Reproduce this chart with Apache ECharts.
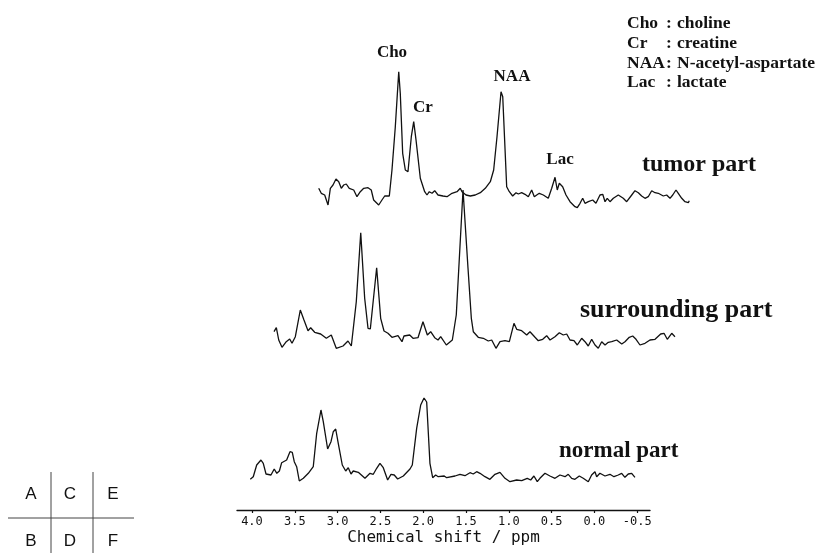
<!DOCTYPE html>
<html><head><meta charset="utf-8">
<script src="https://cdn.jsdelivr.net/npm/echarts@6/dist/echarts.min.js"></script>
<style>html,body{margin:0;padding:0;background:#fff}#c{width:827px;height:553px}</style>
</head><body><div id="c"></div>
<script>
// x-axis tick labels (ppm)
const ppmTicks = [4.0, 3.5, 3.0, 2.5, 2.0, 1.5, 1.0, 0.5, 0.0, -0.5];

// normal part spectrum
const normalPpm = [4.02,3.985,3.945,3.895,3.868,3.836,3.778,3.74,3.71,3.68,3.653,3.595,3.556,3.529,3.506,3.478,3.447,3.40,3.342,3.284,3.244,3.194,3.167,3.116,3.077,3.05,3.022,2.992,2.945,2.905,2.875,2.843,2.817,2.758,2.68,2.621,2.583,2.543,2.505,2.466,2.415,2.376,2.338,2.298,2.232,2.154,2.127,2.076,2.029,1.99,1.959,1.921,1.889,1.854,1.824,1.754,1.725,1.628,1.57,1.512,1.453,1.415,1.375,1.336,1.278,1.22,1.161,1.103,1.044,0.986,0.908,0.849,0.784,0.744,0.706,0.667,0.636,0.577,0.519,0.46,0.402,0.343,0.305,0.265,0.227,0.176,0.13,0.071,0.032,-0.007,-0.027,-0.065,-0.124,-0.182,-0.229,-0.279,-0.319,-0.357,-0.396,-0.436,-0.474];
const normalInt = [0.7,3.3,15,20,16.7,6,5,11,6.7,9,17.3,20,28.3,27.7,18.3,13.3,-1,1.7,6.7,13.3,46.7,70,58.3,31,38.3,48.3,51,36.7,15,9,12.3,6,9,7.7,1.7,6.7,5.7,11.7,16.7,12.3,0,5.7,5,1,4,11,15,51.7,75,82,78,16.7,2.3,5,3.3,4,2.3,4,5.7,4.3,7.3,6,8.3,6.7,3.3,0.7,5.7,7.7,1.7,-1.7,0,-0.7,1.7,0,4,-1.7,1.7,6.7,4,1.7,5,3.3,5.7,1.7,0.7,4,1.7,-1.7,5,8.3,3.3,6.7,4,5.7,3.3,5,6.7,2.7,6,6.7,2.7];

// surrounding part spectrum
const surroundPpm = [4.21,4.183,4.155,4.117,4.067,4.027,4.0,3.961,3.903,3.86,3.813,3.782,3.735,3.665,3.599,3.541,3.483,3.404,3.346,3.307,3.249,3.197,3.151,3.112,3.085,3.011,2.964,2.925,2.879,2.832,2.762,2.715,2.692,2.625,2.586,2.528,2.47,2.419,2.38,2.333,2.294,2.263,2.197,2.127,2.081,2.041,2.002,1.982,1.944,1.905,1.882,1.824,1.765,1.707,1.667,1.617,1.570,1.512,1.461,1.407,1.375,1.317,1.258,1.22,1.161,1.123,1.071,1.025,0.986,0.928,0.877,0.831,0.791,0.752,0.706,0.667,0.616,0.577,0.539,0.499,0.46,0.422,0.382,0.343,0.305,0.265,0.207,0.148,0.11,0.06,0.02,-0.019,-0.065,-0.124,-0.182,-0.241,-0.307,-0.346,-0.384,-0.436,-0.474];
const surroundInt = [8.3,12.3,0,-7.3,-1.7,1,-3.3,3.3,30,20,9.3,12.3,7.7,6,1.7,5,-8.3,-6,-1,-6,38.3,107.3,41.7,11.7,11,72.3,21.7,9,6.7,2.7,4.3,-1.7,4,5,1.7,2.3,18.3,5,8.3,2.3,0,3.3,-5,0,25,88.3,150,150,72,21.7,8.3,2.7,1.7,-1,0,-8.3,-1.7,-0.7,-1.7,16.7,10.7,9.3,5,8.3,2.7,-0.7,0.7,4.3,0,3.3,7.3,5,6,0,-0.7,-5,1.7,-1.7,-6,0.7,-5,-8.3,-1.7,-5,-2.3,-1.7,0,-4,-1.7,2.7,4,0.7,-5,-3.3,0,0.7,6,6.7,0.7,6.7,3.3];

// tumor part spectrum
const tumorPpm = [4.125,4.095,4.055,4.016,3.989,3.958,3.923,3.891,3.861,3.833,3.803,3.768,3.716,3.678,3.639,3.599,3.549,3.511,3.483,3.424,3.386,3.354,3.3,3.269,3.23,3.19,3.172,3.144,3.113,3.082,3.043,3.015,2.988,2.938,2.887,2.86,2.833,2.801,2.77,2.731,2.673,2.626,2.568,2.509,2.471,2.451,2.431,2.404,2.354,2.296,2.237,2.179,2.12,2.081,2.042,1.995,1.975,1.929,1.898,1.859,1.82,1.793,1.754,1.715,1.676,1.637,1.606,1.578,1.548,1.501,1.443,1.403,1.364,1.338,1.314,1.275,1.236,1.189,1.131,1.104,1.072,1.041,1.014,0.975,0.924,0.886,0.839,0.807,0.78,0.754,0.722,0.683,0.625,0.567,0.527,0.468,0.43,0.391,0.352,0.313,0.275,0.235,0.196,0.158,0.099,0.06,0.021,-0.011,-0.049,-0.076,-0.116,-0.154,-0.193,-0.204];
const tumorInt = [6.7,1.7,0,-10,6.7,10,16,13.3,6.7,10,11,6.7,5,-1.7,3.3,6.7,7.3,5,-5,-10,-5,-1,-1,25,68.3,123.3,101.7,41.7,25,23.3,58.3,73.3,55,16.7,3.3,0,3.3,1.7,4.3,0,-1,-1.7,1.7,3.3,6.7,3.3,5,0,-1,0,2.3,6.7,13.3,25,58.3,103.3,98.3,8.3,3.3,-1,2.3,1,2.3,0.7,-1.7,5,-1.7,0,1.7,0,-3.3,6.7,17.7,5,11.7,8.3,0,-6.7,-11.7,-12.7,-8.3,-3.3,-8.3,-6.7,-5,-8.3,0,0.7,-6.7,-3.3,-6.7,-3.3,0,-3.3,-6.7,0,4.3,2.3,-1,-3.3,-1.7,4.3,2.3,1.7,-1,0,-3.3,0,5,1.7,-3.3,-6.7,-7.7,-5.7];

// labels
const peakLabels = ['Cho', 'Cr', 'NAA', 'Lac'];
const partLabels = ['tumor part', 'surrounding part', 'normal part'];
const legendKeys = ['Cho', 'Cr', 'NAA', 'Lac'];
const legendNames = ['choline', 'creatine', 'N-acetyl-aspartate', 'lactate'];
const panelLetters = [['A', 'C', 'E'], ['B', 'D', 'F']];

const zip = (a, b) => a.map((v, i) => [v, b[i]]);
const chart = echarts.init(document.getElementById('c'), null, {renderer: 'canvas'});
const serif = "'Liberation Serif', 'Times New Roman', serif";
const mono = "'DejaVu Sans Mono', monospace";
const lineStyle = {color: '#111', width: 1.3};

const hiddenX = (min, max, gi) => ({type: 'value', gridIndex: gi, min, max, inverse: true, show: false});
const hiddenY = (min, max, gi) => ({type: 'value', gridIndex: gi, min, max, show: false});

const graphic = [];
// legend block
const legY = [23, 43, 63, 82];
legendKeys.forEach((k, i) => {
  graphic.push({type: 'text', x: 627, y: legY[i], style: {text: k, font: 'bold 17.5px ' + serif, fill: '#111', verticalAlign: 'middle'}});
  graphic.push({type: 'text', x: 666, y: legY[i], style: {text: ':', font: 'bold 17.5px ' + serif, fill: '#111', verticalAlign: 'middle'}});
  graphic.push({type: 'text', x: 677, y: legY[i], style: {text: legendNames[i], font: 'bold 17.5px ' + serif, fill: '#111', verticalAlign: 'middle'}});
});
// peak labels
const peakPos = [[392, 53], [423, 108], [512, 77], [560, 160]];
peakLabels.forEach((t, i) => {
  graphic.push({type: 'text', x: peakPos[i][0], y: peakPos[i][1], style: {text: t, font: 'bold 17px ' + serif, fill: '#111', align: 'center', verticalAlign: 'middle'}});
});
// part labels
const partPos = [[642, 165, 24], [580, 310, 26], [559, 451, 23]];
partLabels.forEach((t, i) => {
  graphic.push({type: 'text', x: partPos[i][0], y: partPos[i][1], style: {text: t, font: 'bold ' + partPos[i][2] + 'px ' + serif, fill: '#111', align: 'left', verticalAlign: 'middle'}});
});
// panel key
graphic.push({type: 'line', shape: {x1: 51, y1: 472, x2: 51, y2: 553}, style: {stroke: '#444', lineWidth: 1}});
graphic.push({type: 'line', shape: {x1: 93, y1: 472, x2: 93, y2: 553}, style: {stroke: '#444', lineWidth: 1}});
graphic.push({type: 'line', shape: {x1: 8, y1: 518, x2: 134, y2: 518}, style: {stroke: '#444', lineWidth: 1}});
const letX = [31, 70, 113], letY = [494, 541];
panelLetters.forEach((row, r) => row.forEach((t, c) => {
  graphic.push({type: 'text', x: letX[c], y: letY[r], style: {text: t, font: '17px Liberation Sans, Arial, sans-serif', fill: '#111', align: 'center', verticalAlign: 'middle'}});
}));

chart.setOption({
  animation: false,
  backgroundColor: '#fff',
  grid: [
    {left: 237, top: 390, width: 413, height: 120},
    {left: 257.76, top: 180, width: 445.12, height: 180},
    {left: 295.16, top: 35, width: 445.12, height: 180}
  ],
  xAxis: [
    {type: 'value', gridIndex: 0, min: -0.65, max: 4.175, inverse: true,
     axisLine: {show: true, onZero: false, lineStyle: {color: '#111', width: 1.4}},
     axisTick: {show: true, length: 3, customValues: ppmTicks, lineStyle: {color: '#111', width: 1.2}},
     axisLabel: {show: true, customValues: ppmTicks, margin: 6, color: '#111', fontFamily: mono, fontSize: 12,
       formatter: v => Number(v).toFixed(1)},
     splitLine: {show: false},
     name: 'Chemical shift / ppm', nameLocation: 'middle', nameGap: 20,
     nameTextStyle: {fontFamily: mono, fontSize: 16, color: '#111'}},
    hiddenX(-0.8, 4.4, 1),
    hiddenX(-0.8, 4.4, 2)
  ],
  yAxis: [
    hiddenY(-30, 90, 0),
    hiddenY(-20, 160, 1),
    hiddenY(-20, 160, 2)
  ],
  series: [
    {name: 'normal part', type: 'line', xAxisIndex: 0, yAxisIndex: 0, data: zip(normalPpm, normalInt), showSymbol: false, lineStyle, silent: true},
    {name: 'surrounding part', type: 'line', xAxisIndex: 1, yAxisIndex: 1, data: zip(surroundPpm, surroundInt), showSymbol: false, lineStyle, silent: true},
    {name: 'tumor part', type: 'line', xAxisIndex: 2, yAxisIndex: 2, data: zip(tumorPpm, tumorInt), showSymbol: false, lineStyle, silent: true}
  ],
  graphic
});
</script></body></html>
